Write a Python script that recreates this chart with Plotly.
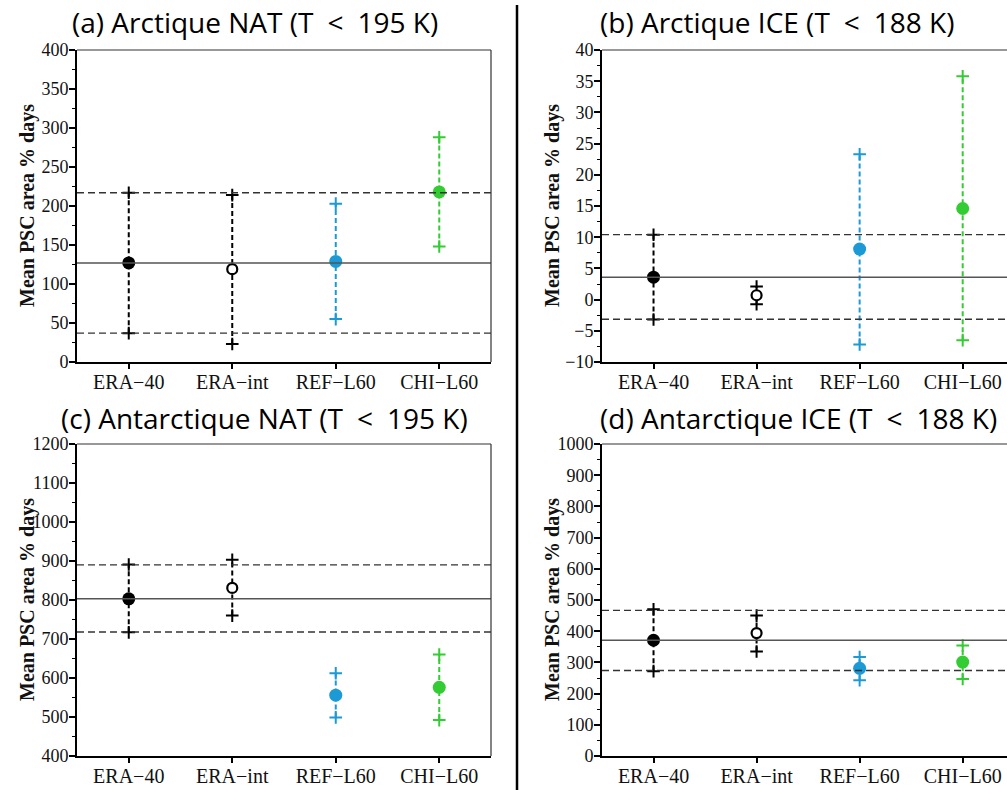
import plotly.graph_objects as go

# Models compared in every panel
models = ["ERA\u221240", "ERA\u2212int", "REF\u2212L60", "CHI\u2212L60"]
model_colors = ["#000000", "#000000", "#1b9ad6", "#33cc33"]
model_symbols = ["circle", "circle-open", "circle", "circle"]

# (a) Arctic NAT
nat_arc_mean = [127, 119, 129, 218]
nat_arc_low = [37, 23, 55, 148]
nat_arc_high = [217, 214, 203, 288]
nat_arc_ref = [127, 37, 217]          # reference mean, lower, upper

# (b) Arctic ICE
ice_arc_mean = [3.6, 0.7, 8.1, 14.6]
ice_arc_low = [-3.2, -0.75, -7.2, -6.5]
ice_arc_high = [10.4, 2.1, 23.3, 35.8]
ice_arc_ref = [3.6, -3.15, 10.4]

# (c) Antarctic NAT
nat_ant_mean = [803, 831, 556, 576]
nat_ant_low = [717, 760, 499, 492]
nat_ant_high = [891, 903, 612, 660]
nat_ant_ref = [803, 718, 890]

# (d) Antarctic ICE
ice_ant_mean = [371, 394, 281, 301]
ice_ant_low = [272, 335, 243, 247]
ice_ant_high = [470, 450, 317, 354]
ice_ant_ref = [371, 274, 467]

LT = "\u2002&lt;\u2002"
panels = [
    dict(title="(a) Arctique NAT (T" + LT + "195 K)", mean=nat_arc_mean, low=nat_arc_low,
         high=nat_arc_high, ref=nat_arc_ref, yrange=[0, 400], dtick=50, minor=25,
         xdom=[77, 491], ydom=[50, 362], xr=[0.5, 4.5], tx=255, ty=22, box=True),
    dict(title="(b) Arctique ICE (T" + LT + "188 K)", mean=ice_arc_mean, low=ice_arc_low,
         high=ice_arc_high, ref=ice_arc_ref, yrange=[-10, 40], dtick=5, minor=2.5,
         xdom=[602, 1007], ydom=[50, 362], xr=[0.5, 4.43], tx=777, ty=22, box=False),
    dict(title="(c) Antarctique NAT (T" + LT + "195 K)", mean=nat_ant_mean, low=nat_ant_low,
         high=nat_ant_high, ref=nat_ant_ref, yrange=[400, 1200], dtick=100, minor=50,
         xdom=[77, 491], ydom=[444, 756], xr=[0.5, 4.5], tx=264, ty=418, box=True),
    dict(title="(d) Antarctique ICE (T" + LT + "188 K)", mean=ice_ant_mean, low=ice_ant_low,
         high=ice_ant_high, ref=ice_ant_ref, yrange=[0, 1000], dtick=100, minor=50,
         xdom=[602, 1007], ydom=[444, 756], xr=[0.5, 4.43], tx=798, ty=418, box=False),
]

W, H = 1007, 790
SERIF = "Liberation Serif"
SANS = "Open Sans"

fig = go.Figure()
shapes = []
annotations = []
xpos = [1, 2, 3, 4]

for k, p in enumerate(panels):
    n = "" if k == 0 else str(k + 1)
    xa, ya = "x" + n, "y" + n
    xkey, ykey = "xaxis" + n, "yaxis" + n

    # reference mean and spread lines
    ref_mean, ref_lo, ref_hi = p["ref"]
    shapes.append(dict(type="line", xref=xa + " domain", yref=ya, x0=0, x1=1,
                       y0=ref_mean, y1=ref_mean, line=dict(color="#555555", width=1.5)))
    for v in (ref_lo, ref_hi):
        shapes.append(dict(type="line", xref=xa + " domain", yref=ya, x0=0, x1=1,
                           y0=v, y1=v, line=dict(color="#333333", width=1.3, dash="7px,4px")))

    for i, m in enumerate(models):
        c = model_colors[i]
        # spread bar with + at the ends
        fig.add_trace(go.Scatter(
            x=[xpos[i], xpos[i]], y=[p["low"][i], p["high"][i]], mode="lines+markers",
            line=dict(color=c, width=2, dash="5px,3px"),
            marker=dict(symbol="cross-thin", size=9, line=dict(color=c, width=2)),
            xaxis=xa, yaxis=ya, showlegend=False, hoverinfo="skip"))
        # mean value
        if model_symbols[i] == "circle-open":
            mk = dict(symbol="circle", size=10, color="white", line=dict(color=c, width=2.2))
        else:
            mk = dict(symbol="circle", size=13, color=c, line=dict(width=0))
        fig.add_trace(go.Scatter(
            x=[xpos[i]], y=[p["mean"][i]], mode="markers", marker=mk,
            xaxis=xa, yaxis=ya, showlegend=False, name=m))

    x0, x1 = p["xdom"]
    yt, yb = p["ydom"]
    fig.update_layout(**{
        xkey: dict(domain=[x0 / W, x1 / W], range=p["xr"], tickmode="array",
                   tickvals=xpos, ticktext=models, showline=True, linecolor="black",
                   linewidth=2, ticks="outside", ticklen=5, tickwidth=1.5,
                   tickcolor="black", showgrid=False, zeroline=False, anchor=ya,
                   automargin=False, ticklabelstandoff=-4,
                   tickfont=dict(family=SERIF, size=20, color="#111")),
        ykey: dict(domain=[1 - yb / H, 1 - yt / H], range=p["yrange"], dtick=p["dtick"],
                   tick0=0, showline=True, linecolor="black", linewidth=2,
                   ticks="outside", ticklen=6, tickwidth=1.5, tickcolor="black",
                   minor=dict(dtick=p["minor"], ticks="outside", ticklen=3,
                              tickwidth=1, tickcolor="black", showgrid=False),
                   showgrid=False, zeroline=False, anchor=xa, tickformat="d",
                   automargin=False, ticklabelstandoff=-3,
                   tickfont=dict(family=SERIF, size=18, color="#111")),
    })

    # top (and right) frame lines
    shapes.append(dict(type="line", xref="paper", yref="paper", x0=x0 / W, x1=x1 / W,
                       y0=1 - yt / H, y1=1 - yt / H, line=dict(color="#333", width=1.2)))
    if p["box"]:
        shapes.append(dict(type="line", xref="paper", yref="paper", x0=x1 / W, x1=x1 / W,
                           y0=1 - yb / H, y1=1 - yt / H, line=dict(color="#333", width=1.2)))

    # panel title
    annotations.append(dict(text=p["title"], x=p["tx"] / W, y=1 - p["ty"] / H,
                            xref="paper", yref="paper", showarrow=False,
                            xanchor="center", yanchor="middle",
                            font=dict(family=SANS, size=28, color="black")))
    # y-axis title
    annotations.append(dict(text="<b>Mean PSC area % days</b>", textangle=-90,
                            x=(x0 - 50) / W, y=1 - (yt + yb) / 2 / H,
                            xref="paper", yref="paper", showarrow=False,
                            xanchor="center", yanchor="middle",
                            font=dict(family=SERIF, size=20, color="#111")))

# separator between the two columns
shapes.append(dict(type="line", xref="paper", yref="paper", x0=517 / W, x1=517 / W,
                   y0=0, y1=1 - 5 / H, line=dict(color="black", width=2.5)))

fig.update_layout(width=W, height=H, margin=dict(l=0, r=0, t=0, b=0, autoexpand=False),
                  paper_bgcolor="white", plot_bgcolor="white",
                  shapes=shapes, annotations=annotations)

fig.write_html("out.html")
